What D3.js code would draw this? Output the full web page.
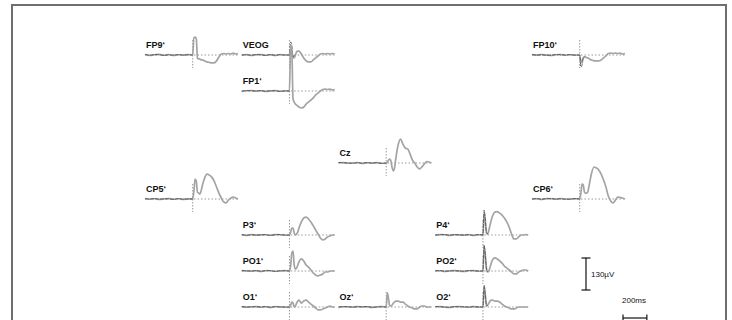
<!DOCTYPE html>
<html>
<head>
<meta charset="utf-8">
<script src="https://cdnjs.cloudflare.com/ajax/libs/d3/7.8.5/d3.min.js"></script>
<style>
	body { margin: 0; background: #fff; }
	svg { display: block; }
	text { font-family: "Liberation Sans", Arial, sans-serif; }
</style>
</head>
<body>
<svg id="chart" width="732" height="320"></svg>
<script>
const channels = ['FP9‘', 'VEOG', 'FP10‘', 'FP1‘', 'Cz', 'CP5‘', 'CP6‘', 'P3‘', 'P4‘', 'PO1‘', 'PO2‘', 'O1‘', 'Oz‘', 'O2‘'];
// montage cell (column, row) of each channel
const gridCol = [0, 1, 4, 1, 2, 0, 4, 1, 3, 1, 3, 1, 2, 3];
const gridRow = [0, 0, 0, 1, 3, 4, 4, 5, 5, 6, 6, 7, 7, 7];

// ms
const times = [-400, -360, -320, -280, -240, -200, -160, -120, -80, -40,
	0, 10, 20, 30, 40, 50, 60, 70, 80,
	100, 120, 140, 160, 180, 200, 220, 240, 260, 280, 300, 320, 340, 360, 380];

// grand average, µV
const grey = {
	'FP9‘': [2, -2, 1, 3, -1, 2, -2, 1, -1, 2, 0, 70, 73, 68, -12, -16, -16, -20, -20, -24, -28, -30, -32, -32, -24, -8, 4, 6, 4, 6, 4, 8, 4, 6],
	'VEOG': [-1, 2, -2, 1, 2, -1, 1, -2, 2, 0, 0, 24, 12, -8, -12, 0, 12, 16, 16, 4, -12, -24, -28, -28, -20, -12, -4, 4, 6, 4, 6, 4, 6, 4],
	'FP10‘': [1, -1, 2, 0, -2, 1, 2, -1, 1, 0, 0, -32, -24, -12, -8, -8, -12, -12, -16, -20, -24, -24, -24, -20, -12, -4, 6, 8, 6, 8, 6, 8, 4, 6],
	'FP1‘': [-2, 1, 2, -1, 1, -2, 0, 2, -1, 1, 0, 183, 162, -32, -45, -53, -57, -61, -65, -69, -65, -53, -45, -37, -28, -16, -8, 0, 6, 8, 6, 8, 4, 6],
	'Cz': [1, 2, -1, 0, 2, -2, 1, -1, 2, -1, 0, 4, 12, 16, 8, -20, -32, -20, 16, 73, 97, 77, 61, 57, 37, 12, 0, -16, -24, -16, -4, 6, 4, 0],
	'CP5‘': [2, -1, 1, -2, 0, 2, -1, 1, -2, 1, 0, 32, 81, 73, 28, 24, 20, 32, 53, 85, 101, 97, 89, 73, 49, 24, 4, -12, -16, -4, 4, 8, 4, 0],
	'CP6‘': [-1, 1, -2, 2, 1, -1, 2, 0, -1, 1, 0, 24, 61, 57, 28, 24, 24, 32, 57, 106, 130, 126, 118, 101, 77, 49, 12, -8, -16, -4, 8, 6, 4, 0],
	'P3‘': [1, -2, 2, -1, 0, 1, -1, 2, 1, -1, 0, 12, 28, 28, 8, 0, 4, 12, 28, 53, 69, 73, 65, 53, 37, 20, 4, -12, -20, -16, -8, -4, 0, 0],
	'P4‘': [-1, 2, 1, -2, 1, 0, -1, 2, -2, 1, 0, 89, 57, 8, 4, 20, 41, 61, 77, 93, 95, 89, 81, 69, 53, 32, 4, -16, -16, -8, 0, 0, 2, 0],
	'PO1‘': [2, 0, -1, 1, -2, 2, 1, -1, 0, 2, 0, 20, 73, 81, 24, 8, 12, 24, 37, 49, 41, 24, 16, 4, -8, -16, -20, -16, -12, -4, -4, 0, 0, 0],
	'PO2‘': [0, 1, -2, 1, 2, -1, -2, 1, 2, -1, 0, 97, 65, 8, -4, 0, 16, 32, 45, 53, 49, 41, 32, 20, 12, 4, -4, -12, -12, -4, 0, 4, 4, 0],
	'O1‘': [1, -1, 0, 2, -1, 1, -2, 2, 0, -1, 0, 8, 20, 16, 0, 4, 16, 24, 28, 16, 24, 28, 20, 12, 4, -4, -12, -12, -8, -4, 0, 4, 0, 0],
	'Oz‘': [-2, 1, 1, -1, 2, 0, 1, -2, 1, 2, 0, 57, 32, 4, 4, 8, 16, 20, 24, 24, 20, 20, 12, 4, 0, -4, -8, -8, 0, 4, 4, 0, 0, 0],
	'O2‘': [1, 2, -1, -2, 1, 2, 0, -1, 2, -1, 0, 81, 49, 4, 8, 16, 24, 28, 28, 24, 24, 20, 12, 4, 0, -4, -8, -8, -4, 0, 0, 0, 0, 0]
};

// second (dark) trace, baseline and onset only
const darkTimes = [-400, -360, -320, -280, -240, -200, -160, -120, -80, -40, 0, 10, 20, 30, 40];
const dark = {
	'FP9‘': [3, -1, 2, 1, -2, 1, -1, 2, 0, 1, 0, null, null, null, null],
	'VEOG': [0, 1, -1, 2, 1, -2, 2, -1, 1, 0, 0, 53, 40, -8, 0],
	'FP10‘': [2, 0, 1, -1, -1, 2, 1, 0, 2, -1, 0, -49, -41, -12, -8],
	'FP1‘': [-1, 2, 1, 0, 2, -1, 1, 1, -2, 0, 0, null, null, null, null],
	'Cz': [2, 1, 0, -1, 1, -1, 2, 0, 1, -2, 0, null, null, null, null],
	'CP5‘': [1, 0, 2, -1, 1, 1, -2, 2, -1, 0, 0, null, null, null, null],
	'CP6‘': [0, 2, -1, 1, 2, 0, 1, -1, 0, 2, 0, null, null, null, null],
	'P3‘': [2, -1, 1, 0, 1, 2, -2, 1, 2, 0, 0, null, null, null, null],
	'P4‘': [0, 1, 2, -1, 2, 1, 0, 1, -1, 2, 0, 101, 61, 8, 4],
	'PO1‘': [1, 1, 0, 2, -1, 1, 2, -2, 1, 1, 0, null, null, null, null],
	'PO2‘': [1, 2, -1, 0, 1, 1, -1, 2, 1, 0, 0, 106, 65, 8, -4],
	'O1‘': [2, 0, 1, 1, 0, 2, -1, 1, 1, 0, 0, null, null, null, null],
	'Oz‘': [0, 2, 1, 0, 1, 1, 2, -1, 0, 1, 0, null, null, null, null],
	'O2‘': [2, 1, 0, -1, 2, 1, 1, 0, 1, 1, 0, 89, 49, 4, 8]
};

const scaleBarUV = 130;
const scaleBarMs = 200;

const svg = d3.select('#chart');

svg.append('rect')
	.attr('x', 12)
	.attr('y', 5)
	.attr('width', 714)
	.attr('height', 330)
	.attr('fill', 'none')
	.attr('stroke', '#6f6f6f')
	.attr('stroke-width', 2);

const panelWidth = 93;
const colStep = 96.75;
const rowStep = 36;
const left0 = 145;
const base0 = 55;

const x = d3.scaleLinear().domain([-400, 380]).range([0, panelWidth]);
const y = d3.scaleLinear().domain([-scaleBarUV, scaleBarUV]).range([32, -32]);

const greyLine = d3.line()
	.x((d, i) => x(times[i]))
	.y(d => y(d))
	.curve(d3.curveMonotoneX);

const darkLine = d3.line()
	.defined(d => d !== null)
	.x((d, i) => x(darkTimes[i]))
	.y(d => y(d))
	.curve(d3.curveMonotoneX);

channels.forEach((name, i) => {
	const g = svg.append('g')
		.attr('transform', `translate(${left0 + gridCol[i] * colStep},${base0 + gridRow[i] * rowStep})`);

	g.append('line')
		.attr('x1', 0)
		.attr('x2', panelWidth)
		.attr('y1', y(0))
		.attr('y2', y(0))
		.attr('stroke', '#9a9a9a')
		.attr('stroke-width', 1)
		.attr('stroke-dasharray', '1.5,2');

	g.append('line')
		.attr('x1', x(0))
		.attr('x2', x(0))
		.attr('y1', -15)
		.attr('y2', 13)
		.attr('stroke', '#9a9a9a')
		.attr('stroke-width', 1)
		.attr('stroke-dasharray', '1.5,1.5');

	g.append('path')
		.attr('d', greyLine(grey[name]))
		.attr('fill', 'none')
		.attr('stroke', '#a4a4a4')
		.attr('stroke-width', 1.7)
		.attr('stroke-linejoin', 'round');

	g.append('path')
		.attr('d', darkLine(dark[name]))
		.attr('fill', 'none')
		.attr('stroke', '#555')
		.attr('stroke-width', 0.9)
		.attr('stroke-dasharray', '4,1');

	g.append('text')
		.attr('x', 1)
		.attr('y', -7.5)
		.attr('fill', '#111')
		.style('font-weight', 'bold')
		.style('font-size', '9px')
		.text(name);
});

// scale bars
const vbar = svg.append('g').attr('transform', 'translate(586,274)');
vbar.append('line')
	.attr('y1', y(scaleBarUV / 2)).attr('y2', y(-scaleBarUV / 2))
	.attr('stroke', '#111').attr('stroke-width', 1.2);
[scaleBarUV / 2, -scaleBarUV / 2].forEach(v => {
	vbar.append('line')
		.attr('x1', -4.5).attr('x2', 4.5)
		.attr('y1', y(v)).attr('y2', y(v))
		.attr('stroke', '#111').attr('stroke-width', 1.2);
});
vbar.append('text')
	.attr('x', 5)
	.attr('y', 3)
	.style('font-size', '8px')
	.attr('fill', '#111')
	.text(scaleBarUV + 'µV');

const hbar = svg.append('g').attr('transform', 'translate(623,318)');
const barLen = x(scaleBarMs) - x(0);
hbar.append('line')
	.attr('x1', 0).attr('x2', barLen)
	.attr('stroke', '#111').attr('stroke-width', 1.2);
[0, barLen].forEach(px => {
	hbar.append('line')
		.attr('x1', px).attr('x2', px)
		.attr('y1', -3.5).attr('y2', 3.5)
		.attr('stroke', '#111').attr('stroke-width', 1.2);
});
hbar.append('text')
	.attr('x', -1)
	.attr('y', -15)
	.style('font-size', '8px')
	.attr('fill', '#111')
	.text(scaleBarMs + 'ms');
</script>
</body>
</html>
